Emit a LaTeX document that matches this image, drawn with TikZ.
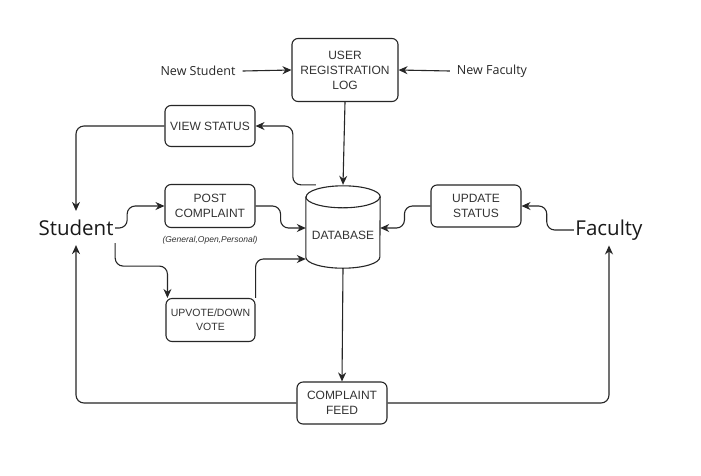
\documentclass[tikz,border=0pt]{standalone}
\usepackage{fontspec}
\setmainfont{Liberation Sans}
\newfontfamily\osans{Open Sans}
\usetikzlibrary{arrows.meta,calc}
\begin{document}
\begin{tikzpicture}[x=1pt,y=-1pt,
  box/.style={draw=black!85, rounded corners=6pt, line width=1.1pt, align=center,
    font=\fontsize{12}{15}\selectfont, inner sep=0pt, text=black!80},
  lbl/.style={font=\osans\fontsize{12.5}{15}\selectfont, text=black!85, inner sep=1pt},
  actor/.style={font=\osans\fontsize{20.5}{24}\selectfont, text=black!90, inner xsep=1.5pt, inner ysep=9pt},
  conn/.style={draw=black!85, line width=1.1pt, -{Stealth[length=9pt,width=8pt]}, rounded corners=8pt},
  cyl/.style={draw=black!85, line width=1.1pt}]
\useasboundingbox[fill=white] (0,0) rectangle (701,475);

% nodes
\node[box, minimum width=106pt, minimum height=63pt] (reg) at (345,70) {USER\\REGISTRATION\\LOG};
\node[lbl] (ns) at (198,71) {New Student};
\node[lbl] (nf) at (492,71) {New Faculty};
\node[box, minimum width=90pt, minimum height=41pt] (vs) at (210,126) {VIEW STATUS};
\node[box, minimum width=90pt, minimum height=43pt] (pc) at (210,206) {POST\\COMPLAINT};
\node[font=\itshape\fontsize{8.5}{10}\selectfont, text=black!80] (gop) at (210,240) {(General,Open,Personal)};
\node[box, minimum width=89pt, minimum height=43pt, font=\fontsize{10.5}{14}\selectfont] (uv) at (210.5,320) {UPVOTE/DOWN\\VOTE};
\node[box, minimum width=90pt, minimum height=42pt] (us) at (476,206) {UPDATE\\STATUS};
\node[box, minimum width=90pt, minimum height=42pt] (cf) at (342,403) {COMPLAINT\\FEED};
\node[actor] (stu) at (76,228) {Student};
\node[actor, inner ysep=5pt] (fac) at (609,230) {Faculty};

% database cylinder
\node[minimum width=74pt, minimum height=82pt, inner sep=0pt] (db) at (343,227) {};
\draw[cyl, fill=white]
  ($(db.north west)+(0,11)$) -- ($(db.south west)+(0,-11)$)
  arc[start angle=180, end angle=360, x radius=37pt, y radius=11pt]
  -- ($(db.north east)+(0,11)$)
  arc[start angle=0, end angle=180, x radius=37pt, y radius=11pt] -- cycle;
\draw[cyl] ($(db.north west)+(0,11)$)
  arc[start angle=180, end angle=360, x radius=37pt, y radius=11pt];
\node[font=\fontsize{12}{14}\selectfont, text=black!80] (dbl) at ($(db.center)+(0,8)$) {DATABASE};

% connectors
\draw[conn] (ns.east) ++(6,0) -- (reg.west);
\draw[conn] (nf.west) ++(-6,0) -- (reg.east);
\draw[conn] (reg.south) -- ($(db.north)+(0,-1)$);
\draw[conn] ($(db.north west)+(10,-1)$) -- ++(-23,0) |- (vs.east);
\draw[conn] (vs.west) -| (stu.north);
\draw[conn] (stu.east) -- ++(12,0) |- (pc.west);
\draw[conn] (pc.east) -- ++(25,0) |- ($(db.west)+(0,1)$);
\draw[conn] ($(stu.south east)+(0,-2)$) -- ++(0,23) -| ($(uv.north west)+(2,0)$);
\draw[conn] (uv.north east) -- ++(0,-39) -- ($(db.west)+(0,32)$);
\draw[conn] (us.west) -- ++(-26,0) |- ($(db.east)+(0,1)$);
\draw[conn] (fac.west) -- ++(-27,0) |- (us.east);
\draw[conn] (db.south) -- (cf.north);
\draw[conn] (cf.west) -| (stu.south);
\draw[conn] (cf.east) -| (fac.south);
\end{tikzpicture}
\end{document}
